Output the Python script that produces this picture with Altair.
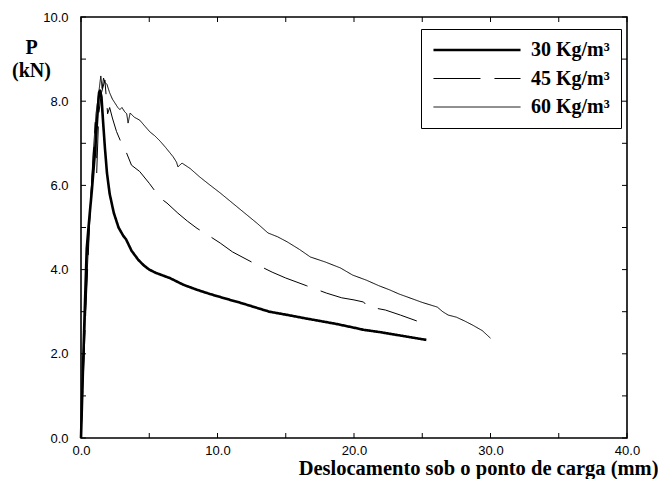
import altair as alt
import pandas as pd

# ---- data ----
series_names = ["30 Kg/m³", "45 Kg/m³", "60 Kg/m³"]

x30 = [0, 0.15, 0.3, 0.42, 0.55, 0.66, 0.8, 0.95, 1.05, 1.15, 1.25, 1.32, 1.4, 1.5, 1.6, 1.75,
       1.9, 2.1, 2.4, 2.75, 3.1, 3.3, 3.7, 4.2, 4.6, 5.0, 5.5, 6.5, 7.5, 8.5, 9.45, 10.5, 11.8,
       12.8, 13.8, 15.0, 16.3, 17.5, 18.7, 20.0, 20.7, 22.0, 23.1, 24.2, 25.3]
y30 = [0, 1.7, 3.3, 4.5, 5.0, 5.4, 5.9, 6.5, 6.9, 7.4, 7.9, 8.2, 8.25, 8.1, 7.6, 6.9,
       6.3, 5.8, 5.35, 5.0, 4.8, 4.72, 4.45, 4.23, 4.1, 4.0, 3.92, 3.8, 3.64, 3.52, 3.42, 3.32, 3.2,
       3.1, 3.0, 2.93, 2.85, 2.78, 2.71, 2.62, 2.57, 2.51, 2.45, 2.39, 2.33]

x45 = [0, 0.35, 0.7, 0.95, 1.05, 1.15, 1.3, 1.5, 1.75, 1.85, 1.95, 2.1, 2.3, 2.6, 2.9, 3.1,
       3.3, 3.7, 4.3, 5.0, 5.8, 6.3, 7.1, 7.8, 8.5, 9.3, 10.2, 11.1, 12.5, 14.0, 15.0, 16.5,
       18.0, 19.1, 20.0, 20.7, 21.0, 22.3, 23.4, 24.6]
y45 = [0, 3.0, 5.6, 7.0, 7.5, 6.3, 7.7, 8.2, 8.5, 8.1, 7.7, 7.85, 7.6, 7.28, 7.05, 6.9,
       6.8, 6.48, 6.33, 6.05, 5.7, 5.58, 5.34, 5.15, 4.98, 4.82, 4.63, 4.42, 4.18, 3.94, 3.8, 3.62,
       3.44, 3.33, 3.28, 3.23, 3.12, 3.04, 2.92, 2.78]

x60 = [0, 0.3, 0.6, 0.9, 1.1, 1.3, 1.45, 1.55, 1.65, 1.75, 1.9, 2.1, 2.3, 2.5, 2.7, 2.85,
       3.0, 3.2, 3.35, 3.45, 3.6, 3.9, 4.3, 4.7, 5.05, 5.4, 5.8, 6.2, 6.75, 7.0, 7.1, 7.4, 8.0,
       8.7, 9.4, 10.2, 11.1, 12.0, 12.9, 13.7, 14.4, 15.1, 16.0, 16.8, 17.9, 19.0, 19.9, 20.9,
       21.8, 22.6, 23.3, 23.9, 25.0, 26.1, 26.5, 26.9, 27.5, 28.1, 28.7, 29.4, 30.0]
y60 = [0, 2.8, 5.0, 6.8, 7.7, 8.2, 8.6, 8.3, 8.55, 8.45, 8.4, 8.2, 8.05, 7.95, 7.85, 7.8,
       7.85, 7.75, 7.7, 7.48, 7.72, 7.62, 7.55, 7.4, 7.27, 7.18, 7.05, 6.9, 6.68, 6.55, 6.44, 6.53, 6.4,
       6.2, 6.02, 5.82, 5.58, 5.34, 5.1, 4.87, 4.78, 4.66, 4.48, 4.3, 4.18, 4.04, 3.87, 3.75,
       3.62, 3.52, 3.42, 3.35, 3.22, 3.11, 3.0, 2.92, 2.87, 2.78, 2.68, 2.55, 2.37]

x_label_values = [0, 10, 20, 30, 40]
y_label_values = [0, 2, 4, 6, 8, 10]
x_tick_values = [0, 5, 10, 15, 20, 25, 30, 35, 40]
y_tick_values = [0, 1, 2, 3, 4, 5, 6, 7, 8, 9, 10]

x_title = "Deslocamento sob o ponto de carga (mm)"
y_title = ["P", "(kN)"]

# ---- build table ----
rows = []
for name, xs_, ys_ in zip(series_names, [x30, x45, x60], [y30, y45, y60]):
    for i, (a, b) in enumerate(zip(xs_, ys_)):
        rows.append({"serie": name, "x": a, "y": b, "i": i})
df = pd.DataFrame(rows)

W, H = 546, 421
xs = alt.Scale(domain=[0, 40], nice=False, zero=False)
ys = alt.Scale(domain=[0, 10], nice=False, zero=False)

x_axis = alt.Axis(
    values=x_label_values, format=".1f", ticks=False, domain=False, grid=False,
    labelFont="Liberation Sans", labelFontSize=13, labelColor="black",
    labelPadding=6, labelFlush=False, labelOverlap=False,
    title=x_title, titleFont="Liberation Serif", titleFontSize=20.5,
    titleFontWeight="bold", titleColor="black", titleX=577, titleY=36,
    titleAlign="right", titleBaseline="alphabetic")
y_axis = alt.Axis(
    values=y_label_values, format=".1f", ticks=False, domain=False, grid=False,
    labelFont="Liberation Sans", labelFontSize=13, labelColor="black",
    labelPadding=13, labelFlush=False, labelOverlap=False,
    title=y_title, titleFont="Liberation Serif", titleFontSize=20,
    titleFontWeight="bold", titleColor="black", titleAngle=0, titleX=-50,
    titleY=36, titleAlign="center", titleBaseline="alphabetic", titleLineHeight=23)

lines = alt.Chart(df).mark_line(color="black", strokeJoin="round").encode(
    x=alt.X("x:Q", scale=xs, axis=x_axis),
    y=alt.Y("y:Q", scale=ys, axis=y_axis),
    order="i:Q",
    strokeDash=alt.StrokeDash("serie:N", scale=alt.Scale(
        domain=series_names, range=[[1, 0], [47, 14], [1, 0]]), legend=alt.Legend(title=None)),
    strokeWidth=alt.StrokeWidth("serie:N", scale=alt.Scale(
        type="ordinal", domain=series_names, range=[2.6, 1, 1]), legend=alt.Legend(title=None)),
)

xt = pd.DataFrame({"x": x_tick_values})
yt = pd.DataFrame({"y": y_tick_values})

bottom = alt.Chart(xt).mark_rule(color="black", strokeWidth=1).encode(
    x=alt.X("x:Q", scale=xs, axis=x_axis), y=alt.value(H), y2=alt.value(H - 5))
top = alt.Chart(xt).mark_rule(color="black", strokeWidth=1).encode(
    x=alt.X("x:Q", scale=xs, axis=x_axis), y=alt.value(0), y2=alt.value(5))
left = alt.Chart(yt).mark_rule(color="black", strokeWidth=1).encode(
    y=alt.Y("y:Q", scale=ys, axis=y_axis), x=alt.value(0), x2=alt.value(5))
right = alt.Chart(yt).mark_rule(color="black", strokeWidth=1).encode(
    y=alt.Y("y:Q", scale=ys, axis=y_axis), x=alt.value(W), x2=alt.value(W - 5))

chart = alt.layer(lines, bottom, top, left, right).properties(
    width=W, height=H,
    autosize=alt.AutoSizeParams(type="none"),
    padding={"left": 73, "top": 9, "right": 31, "bottom": 41},
    background="white",
).configure_view(
    stroke="black", strokeWidth=1.6
).configure_legend(
    orient="none", legendX=340, legendY=12,
    strokeColor="black", fillColor="white", padding=11,
    symbolType="M-5.12,0L5.12,0", symbolSize=289, symbolOffset=35,
    symbolStrokeColor="black",
    labelFont="Liberation Serif", labelFontSize=20, labelFontWeight="bold",
    labelColor="black", labelOffset=44, rowPadding=8.5, labelLimit=300,
)

chart.save("out.html", embed_options={"renderer": "svg", "actions": False})
